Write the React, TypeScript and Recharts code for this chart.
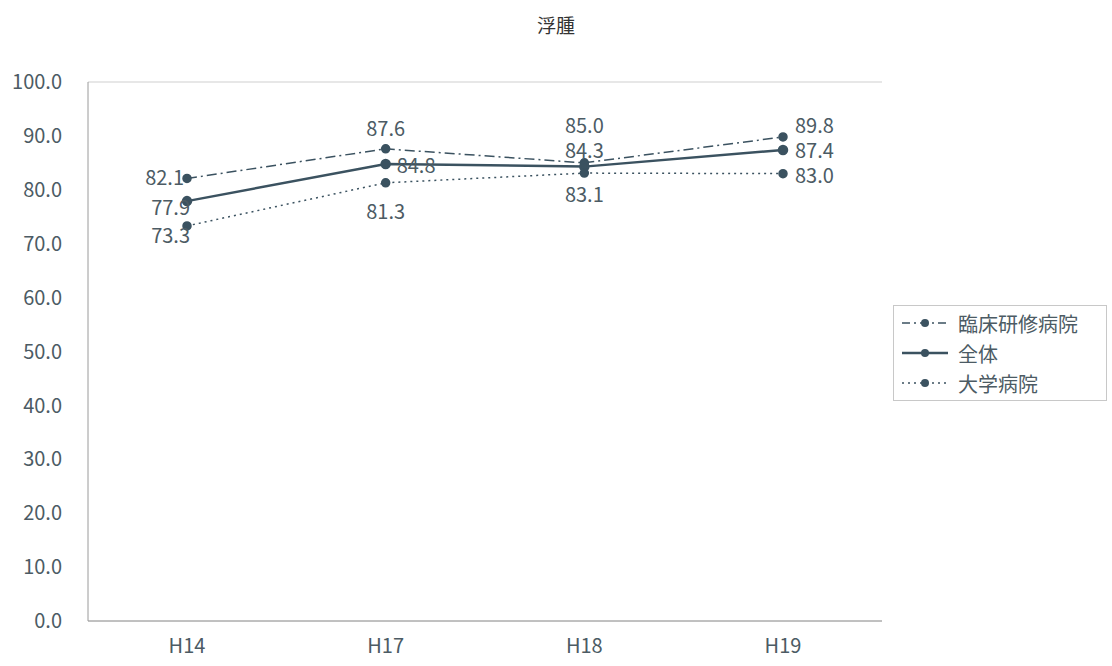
import React from "react";
import {
  LineChart,
  Line,
  XAxis,
  YAxis,
  CartesianGrid,
} from "recharts";

const categories = ["H14", "H17", "H18", "H19"];
const rinshoValues = [82.1, 87.6, 85.0, 89.8];
const zentaiValues = [77.9, 84.8, 84.3, 87.4];
const daigakuValues = [73.3, 81.3, 83.1, 83.0];
const yTicks = [0, 10, 20, 30, 40, 50, 60, 70, 80, 90, 100];

const chartData = categories.map((c, i) => ({
  name: c,
  rinsho: rinshoValues[i],
  zentai: zentaiValues[i],
  daigaku: daigakuValues[i],
}));

const INK = "#3b5260";
const TEXT = "#4c5b64";
const FONT = "'Noto Sans CJK JP', 'Liberation Sans', sans-serif";

// label offsets per point: [dx, dy, anchor]
type Pos = [number, number, "start" | "middle" | "end"];
const rinshoPos: Pos[] = [[-3, -2, "end"], [0, -21, "middle"], [0, -38, "middle"], [12, -12, "start"]];
const zentaiPos: Pos[] = [[3, 5, "end"], [11, 1, "start"], [0, -17, "middle"], [12, 0, "start"]];
const daigakuPos: Pos[] = [[3, 9, "end"], [0, 28, "middle"], [0, 20, "middle"], [12, 1, "start"]];

const makeLabel = (pos: Pos[]) => (props: any) => {
  const { x, y, value, index } = props;
  const [dx, dy, anchor] = pos[index];
  return (
    <text
      x={x + dx}
      y={y + dy}
      textAnchor={anchor}
      dominantBaseline="central"
      fill={TEXT}
      fontSize={20}
      fontFamily={FONT}
    >
      {Number(value).toFixed(1)}
    </text>
  );
};

const legendItems = [
  { label: "臨床研修病院", dash: "8 4 2 4", width: 1.5 },
  { label: "全体", dash: undefined, width: 2.5 },
  { label: "大学病院", dash: "2 4", width: 1.5 },
];

const LegendBox = () => (
  <div
    style={{
      position: "absolute",
      left: 893,
      top: 305,
      width: 214,
      boxSizing: "border-box",
      border: "1px solid #c8c8c8",
      padding: "2px 6px",
      background: "#fff",
      fontFamily: FONT,
      color: TEXT,
      fontSize: 20,
    }}
  >
    {legendItems.map((it) => (
      <div key={it.label} style={{ display: "flex", alignItems: "center", height: 30 }}>
        <svg width={50} height={12} style={{ marginRight: 8 }}>
          <line x1={2} y1={6} x2={48} y2={6} stroke={INK} strokeWidth={it.width} strokeDasharray={it.dash} />
          <circle cx={25} cy={6} r={4} fill={INK} />
        </svg>
        <span>{it.label}</span>
      </div>
    ))}
  </div>
);

export default function App() {
  return (
    <div style={{ position: "absolute", left: 0, top: 0, width: 1112, height: 666, background: "#fff" }}>
      <div
        style={{
          position: "absolute",
          top: 11,
          left: 0,
          width: 1112,
          textAlign: "center",
          fontFamily: FONT,
          fontSize: 19,
          color: "#333",
        }}
      >
        浮腫
      </div>
      <LineChart
        width={1112}
        height={666}
        data={chartData}
        margin={{ top: 82, right: 230, left: 0, bottom: 0 }}
      >
        <CartesianGrid vertical={false} stroke="#cfcfcf" />
        <XAxis
          dataKey="name"
          padding={{ left: 99, right: 99 }}
          tickLine={false}
          axisLine={{ stroke: "#9a9a9a" }}
          tick={{ fill: TEXT, fontSize: 20, fontFamily: FONT }}
          tickMargin={12}
          height={45}
        />
        <YAxis
          yAxisId="left"
          domain={[0, 100]}
          ticks={yTicks}
          interval={0}
          width={88}
          tickLine={false}
          axisLine={{ stroke: "#9a9a9a" }}
          tickFormatter={(v: number) => v.toFixed(1)}
          tick={{ fill: TEXT, fontSize: 20, fontFamily: FONT }}
          tickMargin={20}
        />
        <YAxis
          yAxisId="right"
          orientation="right"
          domain={[0, 100]}
          width={0}
          tick={false}
          tickLine={false}
          axisLine={{ stroke: "#9a9a9a" }}
        />
        <Line
          yAxisId="left"
          dataKey="rinsho"
          name="臨床研修病院"
          stroke={INK}
          strokeWidth={1.5}
          strokeDasharray="10 4 2 4"
          dot={{ r: 4, fill: INK, stroke: INK, strokeDasharray: "0" }}
          label={makeLabel(rinshoPos)}
          isAnimationActive={false}
        />
        <Line
          yAxisId="left"
          dataKey="zentai"
          name="全体"
          stroke={INK}
          strokeWidth={2.5}
          dot={{ r: 4, fill: INK, stroke: INK }}
          label={makeLabel(zentaiPos)}
          isAnimationActive={false}
        />
        <Line
          yAxisId="left"
          dataKey="daigaku"
          name="大学病院"
          stroke={INK}
          strokeWidth={1.5}
          strokeDasharray="2 4"
          dot={{ r: 4, fill: INK, stroke: INK, strokeDasharray: "0" }}
          label={makeLabel(daigakuPos)}
          isAnimationActive={false}
        />
      </LineChart>
      <LegendBox />
    </div>
  );
}
